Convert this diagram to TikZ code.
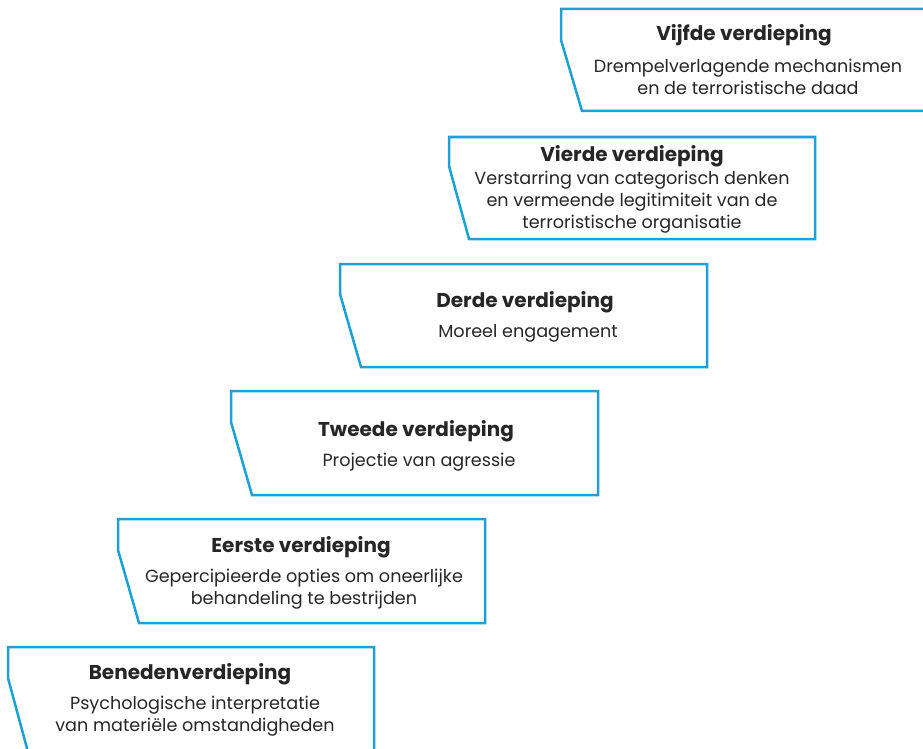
\documentclass[tikz,border=0pt]{standalone}
\usepackage{fontspec}
\setmainfont{Poppins}
\definecolor{stepblue}{HTML}{1BA0D8}
\definecolor{stepgray}{HTML}{262626}
\begin{document}
\begin{tikzpicture}[x=1pt,y=-1pt,
  floor/.style={draw=stepblue,line width=2.5pt,line join=miter},
  title/.style={text=stepgray,font=\fontsize{20}{22}\selectfont\bfseries},
  body/.style={text=stepgray,font=\fontsize{17.6}{22}\selectfont,align=center}]
\useasboundingbox (0,0) rectangle (923,749);
% the six floors, bottom to top
\draw[floor] (28,752) -- (8,678) -- (8,647) -- (374,647) -- (374,752);
\draw[floor] (139,623) -- (118,550) -- (118,519) -- (485,519) -- (485,623) -- cycle;
\draw[floor] (252,495) -- (231,422) -- (231,391) -- (598,391) -- (598,495) -- cycle;
\draw[floor] (361,367) -- (340,294) -- (340,264) -- (707,264) -- (707,367) -- cycle;
\draw[floor] (469,239) -- (449,166) -- (449,137) -- (815,137) -- (815,239) -- cycle;
\draw[floor] (926,111) -- (582,111) -- (561,40) -- (561,9) -- (926,9);
% texts
\node[title] (t0) at (190,674) {Benedenverdieping};
\node[body] (b0) at (195,716) {Psychologische interpretatie\\van materiële omstandigheden};
\node[title] (t1) at (301,547) {Eerste verdieping};
\node[body] (b1) at (304,589) {Gepercipieerde opties om oneerlijke\\behandeling te bestrijden};
\node[title] (t2) at (416,431) {Tweede verdieping};
\node[body] (b2) at (419,462) {Projectie van agressie};
\node[title] (t3) at (525,302) {Derde verdieping};
\node[body] (b3) at (528,333) {Moreel engagement};
\node[title] (t4) at (632,156) {Vierde verdieping};
\node[body] (b4) at (632,202) {Verstarring van categorisch denken\\en vermeende legitimiteit van de\\terroristische organisatie};
\node[title] (t5) at (744,35) {Vijfde verdieping};
\node[body] (b5) at (748,77) {Drempelverlagende mechanismen\\en de terroristische daad};
\end{tikzpicture}
\end{document}
